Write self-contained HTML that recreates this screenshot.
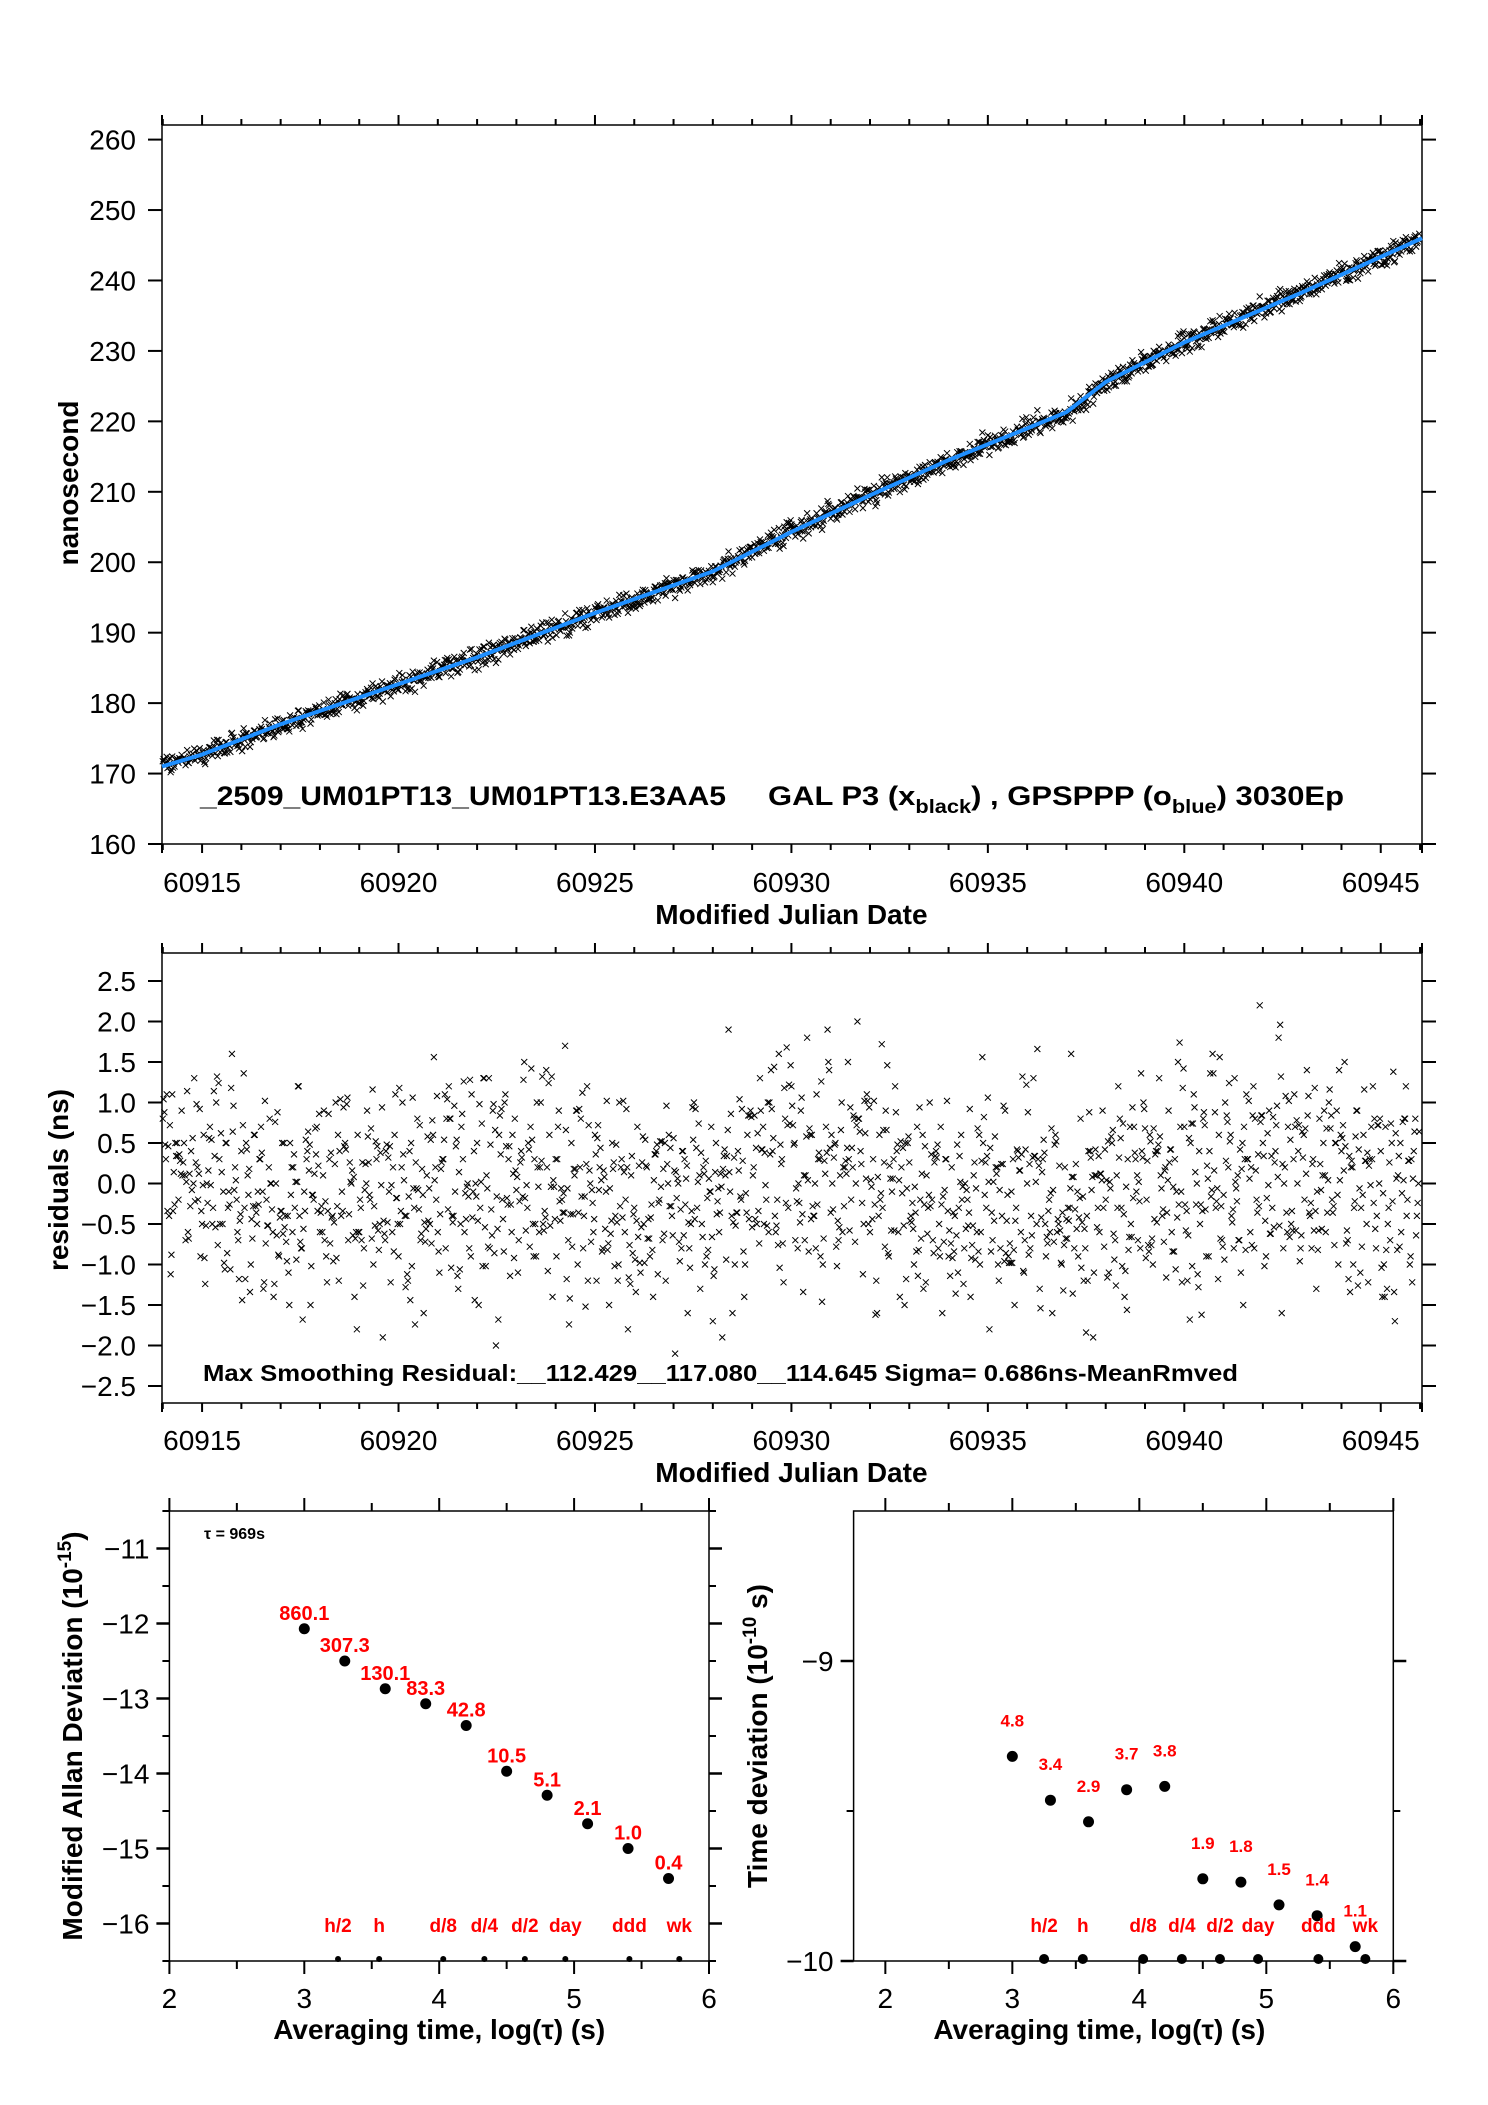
<!DOCTYPE html>
<html><head><meta charset="utf-8"><style>
html,body{margin:0;padding:0;background:#fff;}
svg{display:block;font-family:"Liberation Sans",sans-serif;}
</style></head><body>
<svg id="chart" width="1488" height="2105" viewBox="0 0 1488 2105" xmlns="http://www.w3.org/2000/svg">
<rect width="1488" height="2105" fill="#fff"/>
<g id="g1"></g>
<g id="g2"></g>
<g id="g3"></g>
<g id="g4"></g>
</svg>
<script>
// ---------- data ----------
const smoothX = [60913.98,60915,60917,60920,60922,60925,60928,60930,60932,60934,60936,60937,60938,60939,60940,60943,60946.05];
const smoothY = [171,172.7,177,182.7,186.5,192.8,198.7,204.3,209.5,214.5,219,221.3,225.6,228.4,231.2,238.3,246];
const mjdStart = 60914.0;
const mjdStep = 0.08;
const resid = [0.8,0.3,-0.4,1.1,0.5,-0.2,0.9,0.1,-0.6,0.4,1.3,0.2,-0.9,0.6,0.0,0.7,-0.3,1.0,0.3,-0.5,
0.5,-0.1,1.6,0.2,-0.7,0.4,-0.3,0.1,-1.0,0.6,-0.5,0.3,-1.3,-0.2,0.8,-0.6,0.0,-0.9,0.5,-0.4,
-1.1,0.2,-0.3,1.2,-0.8,-0.1,0.4,-1.5,-0.2,0.7,-0.6,0.1,-0.9,0.3,-0.4,1.0,-1.2,-0.1,0.5,-0.7,
0.0,-1.4,0.6,-0.3,-0.8,0.9,-0.2,-1.0,0.3,-0.5,-1.9,0.4,-0.1,-0.6,1.1,-0.9,0.2,-0.4,-1.2,0.5,
-0.3,0.8,-0.7,-1.6,0.1,-0.5,0.6,-0.2,-1.1,0.3,-0.8,1.2,-0.4,-0.1,-1.3,0.7,-0.6,0.0,-0.9,0.4,
0.5,-0.3,1.3,0.1,-0.8,0.9,-2.0,0.6,-0.2,1.1,0.3,-0.6,0.8,-1.1,0.4,1.5,-0.3,0.7,-0.9,1.0,
0.2,-0.5,1.4,0.6,-1.4,0.3,0.9,-0.2,1.7,-0.7,0.5,0.1,-1.0,0.8,-0.4,1.2,0.0,-0.6,-1.2,0.2,
-0.8,-0.1,-1.5,0.5,-0.4,-1.0,0.3,-0.6,-1.8,0.1,-0.3,0.7,-1.1,-0.5,0.2,-0.9,-1.4,0.4,-0.2,-0.7,
-1.2,0.6,-0.4,-2.1,0.0,-0.8,0.3,-1.6,-0.5,1.0,-0.3,-1.3,0.2,-0.9,-0.1,-1.7,0.5,-0.6,-1.9,0.1,
1.9,-0.4,-1.0,0.4,-0.2,-1.4,0.6,0.9,0.2,-0.5,1.3,0.7,-0.2,1.0,0.4,-0.6,1.6,0.3,0.8,-0.3,
1.2,0.5,-0.8,0.9,0.1,1.8,0.6,-0.4,1.1,0.3,-1.0,0.7,1.4,0.0,0.5,-0.7,1.0,0.2,1.5,-0.2,
0.8,2.0,0.4,-0.5,1.1,-0.6,0.3,-1.2,0.6,-0.3,0.9,-0.9,-0.1,1.2,-0.6,0.2,-1.5,0.5,-0.4,-1.0,
0.7,-0.2,-1.3,0.1,1.0,-0.7,0.4,-0.5,-1.6,0.3,-0.9,0.2,-0.4,-1.1,0.6,-0.8,-0.2,-1.4,0.1,-0.6,
-1.0,0.5,-0.3,-1.8,-0.7,0.2,-1.2,-0.4,0.9,-0.9,-0.1,-1.5,0.4,-0.6,-1.1,0.0,-0.8,1.3,-0.5,-1.3,
0.3,-0.9,-0.2,-1.6,0.6,-0.5,-1.0,0.2,-0.3,1.6,-0.8,-0.1,0.8,-1.2,-0.4,0.4,-1.9,0.1,-0.6,0.9,
-0.2,-1.1,0.5,-0.7,1.2,-0.3,-1.4,0.3,-0.5,0.7,0.1,-0.8,1.0,-0.2,0.6,-1.0,0.4,1.3,-0.4,0.2,
0.9,-0.6,0.3,1.5,-0.1,0.7,-1.2,0.5,1.1,0.0,-0.5,0.8,-0.9,0.4,1.6,-0.3,0.6,-0.7,1.0,0.2,
-0.4,1.3,0.1,-1.1,0.7,0.3,-0.6,1.2,-0.2,2.2,0.5,-0.9,0.9,-0.3,0.4,1.8,-1.6,0.2,0.7,-0.5,
1.1,0.0,-0.8,0.6,1.4,-0.4,0.3,-1.3,0.8,0.1,-0.6,1.0,-0.2,0.5,-1.0,0.4,1.5,-0.7,0.2,-0.3,
0.9,-1.1,0.6,-0.5,0.3,1.2,-0.8,0.0,-1.4,0.7,-0.3,0.5,-1.7,0.1,-0.6,0.8,-0.2,-0.9,0.4,-0.4];
const mjdTicks = [60915,60920,60925,60930,60935,60940,60945];
const phaseTicks = [160,170,180,190,200,210,220,230,240,250,260];
const residTicks = [-2.5,-2.0,-1.5,-1.0,-0.5,0.0,0.5,1.0,1.5,2.0,2.5];

const logTau = [3.0,3.3,3.6,3.9,4.2,4.5,4.8,5.1,5.4,5.7];
const mdevVals = [-12.07,-12.5,-12.87,-13.07,-13.36,-13.97,-14.29,-14.67,-15.0,-15.4];
const mdevLabels = ["860.1","307.3","130.1","83.3","42.8","10.5","5.1","2.1","1.0","0.4"];
const tdevVals = [-9.318,-9.464,-9.536,-9.429,-9.418,-9.726,-9.737,-9.813,-9.849,-9.952];
const tdevLabels = ["4.8","3.4","2.9","3.7","3.8","1.9","1.8","1.5","1.4","1.1"];
const markerPos = [3.25,3.555,4.03,4.335,4.635,4.935,5.41,5.78];
const markerNames = ["h/2","h","d/8","d/4","d/2","day","ddd","wk"];
const mdevTicks = [-16,-15,-14,-13,-12,-11];
const tdevTicks = [-10,-9];
const logTicks = [2,3,4,5,6];

// ---------- helpers ----------
const NS='http://www.w3.org/2000/svg';
function mk(parent,tag,attrs,text){const e=document.createElementNS(NS,tag);for(const k in attrs)e.setAttribute(k,attrs[k]);if(text!==undefined)e.textContent=text;parent.appendChild(e);return e;}
function lin(d0,d1,r0,r1){return v=>r0+(v-d0)*(r1-r0)/(d1-d0);}
function fmtNeg(s){return String(s).replace('-','\u2212');}
function interp(x){for(let i=0;i<smoothX.length-1;i++){if(x<=smoothX[i+1]){const t=(x-smoothX[i])/(smoothX[i+1]-smoothX[i]);return smoothY[i]+t*(smoothY[i+1]-smoothY[i]);}}return smoothY[smoothY.length-1];}

function frame(g,L,T,R,B){
  const r=mk(g,'rect',{x:L,y:T,width:R-L,height:B-T,fill:'none',stroke:'#000','stroke-width':1.5});
  
  
}
function mjdAxis(g,L,T,R,B,sx,labelY,titleY){
  for(let d=60914;d<=60946;d++){
    const x=sx(d); if(x<L-0.5||x>R+0.5)continue;
    const major=(d%5===0);
    const len=major?10:6;
    const t1=mk(g,'line',{x1:x,y1:T,x2:x,y2:T-len,stroke:'#000','stroke-width':2});
    
    
    const t2=mk(g,'line',{x1:x,y1:B,x2:x,y2:B+(major?9:6),stroke:'#000','stroke-width':2});
    
    
  }
  mk(g,'line',{x1:L,y1:T,x2:L,y2:T-10,stroke:'#000','stroke-width':2});
  mk(g,'line',{x1:R,y1:T,x2:R,y2:T-10,stroke:'#000','stroke-width':2});
  mk(g,'line',{x1:L,y1:B,x2:L,y2:B+9,stroke:'#000','stroke-width':2});
  mk(g,'line',{x1:R,y1:B,x2:R,y2:B+9,stroke:'#000','stroke-width':2});
  mjdTicks.forEach(v=>{
    const t=mk(g,'text',{x:sx(v),y:labelY,'font-size':28,'text-anchor':'middle'},String(v));
    
    
  });
  const tt=mk(g,'text',{x:sx(60930),y:titleY,'font-size':28,'font-weight':'bold','text-anchor':'middle'},'Modified Julian Date');
  
  
}
function yAxisTicks(g,L,R,vals,sy,fmt){
  vals.forEach(v=>{
    const y=sy(v);
    const a=mk(g,'line',{x1:L-14,y1:y,x2:L,y2:y,stroke:'#000','stroke-width':2});
    
    
    const b=mk(g,'line',{x1:R,y1:y,x2:R+14,y2:y,stroke:'#000','stroke-width':2});
    
    
    const t=mk(g,'text',{x:L-26,y:y+10,'font-size':28,'text-anchor':'end'},fmt(v));
    
    
  });
}
function xmark(g,x,y,s){
  return mk(g,'path',{d:`M${x-s} ${y-s}L${x+s} ${y+s}M${x-s} ${y+s}L${x+s} ${y-s}`,stroke:'#000','stroke-width':1,fill:'none'});
}
// sub-sample offsets (fraction of step) and which residual index each sub-sample reuses
const subOff=[0,0.25,0.5,0.75];
const subMul=[1,7,13,29];

// ---------- plot 1: phase ----------
(function(){
  const g=document.getElementById('g1');
  const L=162,R=1422,T=125,B=844;
  const sx=lin(60913.98,60946.05,L,R), sy=lin(160,260,B,139.6);
  frame(g,L,T,R,B);
  mjdAxis(g,L,T,R,B,sx,892,924);
  yAxisTicks(g,L,R,phaseTicks,sy,v=>String(v));
  const pts=mk(g,'g',{});
  
  
  resid.forEach((r,i)=>{
    subOff.forEach((o,k)=>{
      const m=mjdStart+(i+o)*mjdStep;
      const rv=resid[(i*subMul[k]+k*3)%resid.length];
      const p=xmark(pts,sx(m),sy(interp(m)+rv*0.9),3);
      
      
    });
  });
  const line=mk(g,'polyline',{points:smoothX.map((x,i)=>sx(x)+','+sy(smoothY[i])).join(' '),fill:'none',stroke:'#1f8fff','stroke-width':4,'stroke-linejoin':'round'});
  
  
  const yt=mk(g,'text',{x:0,y:0,'font-size':28,'font-weight':'bold','text-anchor':'middle',transform:'translate(78,483) rotate(-90)'},'nanosecond');
  
  
  const a=mk(g,'text',{x:200,y:805,'font-size':27,'font-weight':'bold',textLength:526,lengthAdjust:'spacingAndGlyphs'},'_2509_UM01PT13_UM01PT13.E3AA5');
  
  
  const b=mk(g,'text',{x:768,y:805,'font-size':27,'font-weight':'bold'});
  
  
  b.innerHTML='GAL P3 (x<tspan font-size="19" dy="8">black</tspan><tspan dy="-8">) ,  GPSPPP (o</tspan><tspan font-size="19" dy="8">blue</tspan><tspan dy="-8">)  3030Ep</tspan>';
  b.setAttribute('textLength',576);
  b.setAttribute('lengthAdjust','spacingAndGlyphs');
})();

// ---------- plot 2: residuals ----------
(function(){
  const g=document.getElementById('g2');
  const L=162,R=1422,T=953,B=1403;
  const sx=lin(60913.98,60946.05,L,R), sy=lin(-2.5,2.5,1386,981);
  frame(g,L,T,R,B);
  mjdAxis(g,L,T,R,B,sx,1450,1482);
  yAxisTicks(g,L,R,residTicks,sy,v=>fmtNeg(v.toFixed(1)));
  const pts=mk(g,'g',{});
  
  
  resid.forEach((r,i)=>{
    subOff.forEach((o,k)=>{
      const m=mjdStart+(i+o)*mjdStep;
      const rv=k===0?r:(resid[(i*subMul[k]+k*3)%resid.length]*0.8+r*0.2);
      const p=xmark(pts,sx(m),sy(rv),3);
      
      
    });
  });
  const yt=mk(g,'text',{x:0,y:0,'font-size':28,'font-weight':'bold','text-anchor':'middle',transform:'translate(68,1180) rotate(-90)'},'residuals (ns)');
  
  
  const s=mk(g,'text',{x:203,y:1381,'font-size':23,'font-weight':'bold',textLength:1035,lengthAdjust:'spacingAndGlyphs'},'Max Smoothing Residual:__112.429__117.080__114.645  Sigma= 0.686ns-MeanRmved');
  
  
})();

// ---------- stability plots ----------
function stabAxes(g,L,T,R,B,sx,sy,yTicks,minorY){
  frame(g,L,T,R,B);
  for(let v=2;v<=6.001;v+=0.5){
    const x=sx(v); if(x<L-0.5)continue;
    const major=Math.abs(v-Math.round(v))<0.01;
    const len=major?13:8;
    const a=mk(g,'line',{x1:x,y1:T,x2:x,y2:T-len,stroke:'#000','stroke-width':2});
    
    
    const b=mk(g,'line',{x1:x,y1:B,x2:x,y2:B+len,stroke:'#000','stroke-width':2});
    
    
  }
  logTicks.forEach(v=>{
    const t=mk(g,'text',{x:sx(v),y:2008,'font-size':28,'text-anchor':'middle'},String(v));
    
    
  });
  yTicks.forEach(v=>{
    const y=sy(v);
    mk(g,'line',{x1:L-13,y1:y,x2:L,y2:y,stroke:'#000','stroke-width':2.5});
    mk(g,'line',{x1:R,y1:y,x2:R+13,y2:y,stroke:'#000','stroke-width':2.5});
    const t=mk(g,'text',{x:L-20,y:y+10,'font-size':28,'text-anchor':'end'},fmtNeg(v));
    
    
  });
  minorY.forEach(v=>{
    const y=sy(v);
    mk(g,'line',{x1:L-7,y1:y,x2:L,y2:y,stroke:'#000','stroke-width':2});
    mk(g,'line',{x1:R,y1:y,x2:R+7,y2:y,stroke:'#000','stroke-width':2});
  });
  const xt=mk(g,'text',{x:(sx(2)+sx(6))/2+((L<500)?0:-40),y:2039,'font-size':28,'font-weight':'bold','text-anchor':'middle'},'Averaging time, log(\u03C4) (s)');
  
  
}
function stabPoints(g,sx,sy,vals,labels,labelDy,labelSize,bottomVal,markR){
  vals.forEach((v,i)=>{
    const c=mk(g,'circle',{cx:sx(logTau[i]),cy:sy(v),r:5.5,fill:'#000'});
    
    
    const t=mk(g,'text',{x:sx(logTau[i]),y:sy(v)+labelDy,'font-size':labelSize,'font-weight':'bold',fill:'#ff0000','text-anchor':'middle'},labels[i]);
    
    
  });
  markerPos.forEach((v,i)=>{
    const c=mk(g,'circle',{cx:sx(v),cy:sy(bottomVal)-2,r:markR,fill:'#000'});
    
    
    const t=mk(g,'text',{x:sx(v),y:1932,'font-size':19,'font-weight':'bold',fill:'#ff0000','text-anchor':'middle'},markerNames[i]);
    
    
  });
}
(function(){
  const g=document.getElementById('g3');
  const L=169.4,R=709,T=1511,B=1961;
  const sx=lin(2,6,L,R), sy=lin(-16.5,-10.5,B,T);
  stabAxes(g,L,T,R,B,sx,sy,mdevTicks,[-16.5,-15.5,-14.5,-13.5,-12.5,-11.5,-10.5]);
  stabPoints(g,sx,sy,mdevVals,mdevLabels,-9,20,-16.5,3);
  const tau=mk(g,'text',{x:204,y:1539,'font-size':16,'font-weight':'bold'},'\u03C4 = 969s');
  
  
  const yt=mk(g,'text',{x:0,y:0,'font-size':28,'font-weight':'bold','text-anchor':'middle',transform:'translate(82,1736) rotate(-90)'});
  yt.innerHTML='Modified Allan Deviation (10<tspan font-size="19" dy="-11">-15</tspan><tspan dy="11">)</tspan>';
  
  
})();
(function(){
  const g=document.getElementById('g4');
  const L=853.6,R=1393.3,T=1511,B=1961;
  const sx=lin(1.75,6,L,R), sy=lin(-10,-8.5,B,T);
  stabAxes(g,L,T,R,B,sx,sy,tdevTicks,[-9.5]);
  stabPoints(g,sx,sy,tdevVals,tdevLabels,-30,17,-10,5);
  const yt=mk(g,'text',{x:0,y:0,'font-size':28,'font-weight':'bold','text-anchor':'middle',transform:'translate(767,1736) rotate(-90)'});
  yt.innerHTML='Time deviation (10<tspan font-size="19" dy="-11">-10</tspan><tspan dy="11"> s)</tspan>';
  
  
})();
</script>
</body></html>
